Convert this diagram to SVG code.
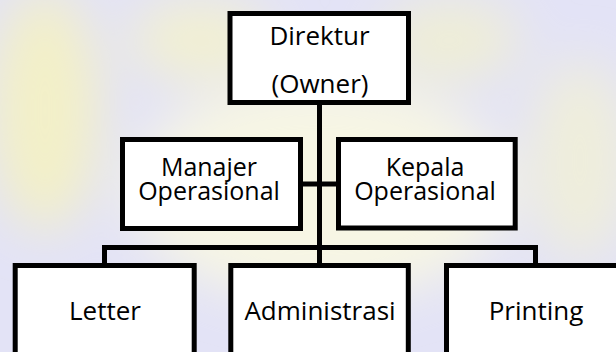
<svg xmlns="http://www.w3.org/2000/svg" width="616" height="352" viewBox="0 0 616 352">
<style>
.box{fill:#ffffff;stroke:#000000;stroke-width:5}
.conn{stroke:#000000;stroke-width:5;fill:none}
.lbl{font-family:"Open Sans","Noto Sans",sans-serif;font-size:26px;fill:#000000;text-anchor:middle}
.tight{font-size:25px}
</style>
<defs>
<filter id="blur" x="-50%" y="-50%" width="200%" height="200%"><feGaussianBlur stdDeviation="25"/></filter>
</defs>
<g id="background">
<rect x="0" y="0" width="616" height="352" fill="#e3e3f6"/>
<g filter="url(#blur)">
<ellipse cx="320" cy="190" rx="190" ry="110" fill="#f7f6e4"/>
<ellipse cx="45" cy="110" rx="55" ry="120" fill="#f3f0c8"/>
<ellipse cx="580" cy="160" rx="50" ry="100" fill="#efeedb"/>
<ellipse cx="200" cy="40" rx="70" ry="40" fill="#f2f0d2"/>
<ellipse cx="450" cy="40" rx="70" ry="40" fill="#efeed6"/>
</g>
</g>
<g id="connectors">
<line class="conn" x1="319.5" y1="103" x2="319.5" y2="266"/>
<line class="conn" x1="301" y1="184" x2="338" y2="184"/>
<line class="conn" x1="104.5" y1="247.5" x2="535.5" y2="247.5"/>
<line class="conn" x1="104.5" y1="245" x2="104.5" y2="266"/>
<line class="conn" x1="535.5" y1="245" x2="535.5" y2="266"/>
</g>
<g id="direktur">
<rect class="box" x="230" y="13.5" width="178.5" height="89"/>
<text class="lbl" x="319.5" y="45">Direktur</text>
<text class="lbl" x="320" y="93">(Owner)</text>
</g>
<g id="manajer">
<rect class="box" x="122.5" y="139.5" width="178" height="89"/>
<text class="lbl tight"><tspan x="209" y="176">Manajer</tspan><tspan x="209" y="200">Operasional</tspan></text>
</g>
<g id="kepala">
<rect class="box" x="338.5" y="139.5" width="176.7" height="88.5"/>
<text class="lbl tight"><tspan x="425" y="176">Kepala</tspan><tspan x="425" y="200">Operasional</tspan></text>
</g>
<g id="letter">
<rect class="box" x="15.2" y="265.5" width="179" height="100"/>
<text class="lbl" x="105" y="320">Letter</text>
</g>
<g id="administrasi">
<rect class="box" x="230.8" y="265.5" width="177.5" height="100"/>
<text class="lbl" x="320" y="320">Administrasi</text>
</g>
<g id="printing">
<rect class="box" x="446.5" y="265.5" width="178" height="100"/>
<text class="lbl" x="536" y="320">Printing</text>
</g>
</svg>
